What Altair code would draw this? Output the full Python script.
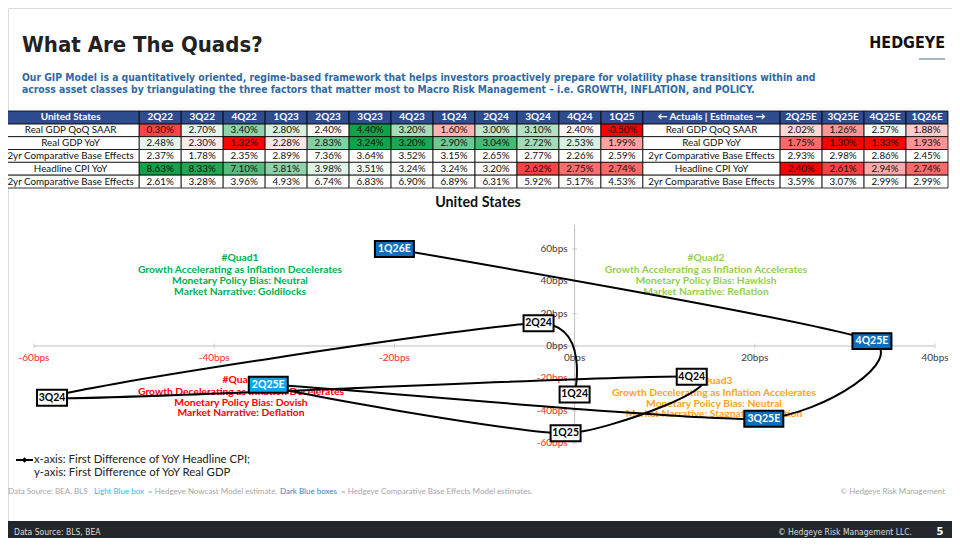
import altair as alt
import pandas as pd
import numpy as np

# ---------------- data ----------------
quarters = ["2Q22", "3Q22", "4Q22", "1Q23", "2Q23", "3Q23", "4Q23", "1Q24", "2Q24",
            "3Q24", "4Q24", "1Q25", "2Q25E", "3Q25E", "4Q25E", "1Q26E"]
gdp_qoq = [0.30, 2.70, 3.40, 2.80, 2.40, 4.40, 3.20, 1.60, 3.00, 3.10, 2.40, -0.50, 2.02, 1.26, 2.57, 1.88]
gdp_yoy = [2.48, 2.30, 1.32, 2.28, 2.83, 3.24, 3.20, 2.90, 3.04, 2.72, 2.53, 1.99, 1.75, 1.30, 1.33, 1.93]
gdp_base = [2.37, 1.78, 2.35, 2.89, 7.36, 3.64, 3.52, 3.15, 2.65, 2.77, 2.26, 2.59, 2.93, 2.98, 2.86, 2.45]
cpi_yoy = [8.63, 8.33, 7.10, 5.81, 3.98, 3.51, 3.24, 3.24, 3.20, 2.62, 2.75, 2.74, 2.40, 2.61, 2.94, 2.74]
cpi_base = [2.61, 3.28, 3.96, 4.93, 6.74, 6.83, 6.90, 6.89, 6.31, 5.92, 5.17, 4.53, 3.59, 3.07, 2.99, 2.99]
row_labels = ["Real GDP QoQ SAAR", "Real GDP YoY", "2yr Comparative Base Effects",
              "Headline CPI YoY", "2yr Comparative Base Effects"]
row_colored = [True, True, False, True, False]

path_labels = ["1Q24", "2Q24", "3Q24", "4Q24", "1Q25", "2Q25E", "3Q25E", "4Q25E", "1Q26E"]
cpi_diff_bps = [0, -4, -58, 13, -1, -34, 21, 33, -20]
gdp_diff_bps = [-30, 14, -32, -19, -54, -24, -45, 3, 60]
label_kind = ["actual", "actual", "actual", "actual", "actual", "nowcast", "estimate", "estimate", "estimate"]

x_ticks = [-60, -40, -20, 0, 20, 40]
y_ticks = [60, 40, 20, 0, -20, -40, -60]

quad_texts = {
    "q1": ["#Quad1", "Growth Accelerating as Inflation Decelerates", "Monetary Policy Bias: Neutral", "Market Narrative: Goldilocks"],
    "q2": ["#Quad2", "Growth Accelerating as Inflation Accelerates", "Monetary Policy Bias: Hawkish", "Market Narrative: Reflation"],
    "q3": ["#Quad3", "Growth Decelerating as Inflation Accelerates", "Monetary Policy Bias: Neutral", "Market Narrative: Stagnation/Inflation"],
    "q4": ["#Quad4", "Growth Decelerating as Inflation Decelerates", "Monetary Policy Bias: Dovish", "Market Narrative: Deflation"],
}

# ---------------- styles ----------------
FONT = "Lato"
COND = "DejaVu Sans Condensed"
RED = "#FA0000"
GREEN = "#12A24A"
NAVY = "#2E4C8E"
ONE = alt.Data(values=[{"a": 1}])


def txt(text, x, y, size=10, color="#000000", weight="normal", align="left", font=FONT, baseline="middle", **kw):
    return alt.Chart(ONE).mark_text(text=text, fontSize=size, color=color, fontWeight=weight, align=align,
                                    font=font, baseline=baseline, **kw).encode(x=alt.value(x), y=alt.value(y))


def rect(x, x2, y, y2, fill, **kw):
    return alt.Chart(ONE).mark_rect(fill=fill, **kw).encode(
        x=alt.value(x), x2=alt.value(x2), y=alt.value(y), y2=alt.value(y2))


layers = []

# ---------------- header ----------------
layers.append(txt("What Are The Quads?", 14, 37, size=22, color="#222222", weight="bold", font=COND))
layers.append(txt("HEDGEYE", 937, 35, size=16, color="#111111", weight="bold", font=COND, align="right"))
layers.append(alt.Chart(ONE).mark_rule(color="#A9B4BE", strokeWidth=2).encode(
    x=alt.value(911), x2=alt.value(937), y=alt.value(51)))
layers.append(txt("Our GIP Model is a quantitatively oriented, regime-based framework that helps investors proactively "
                  "prepare for volatility phase transitions within and", 14, 70, size=10.3, color="#2F6AA3",
                  font=COND, weight="bold"))
layers.append(txt("across asset classes by triangulating the three factors that matter most to Macro Risk Management "
                  "\u2013 i.e. GROWTH, INFLATION, and POLICY.", 14, 82, size=10.3, color="#2F6AA3",
                  font=COND, weight="bold"))

# ---------------- table ----------------
col_names = ["United States"] + quarters[:12] + ["\u2190  Actuals  |  Estimates  \u2192"] + quarters[12:]
col_units = [3.27] + [1] * 12 + [3.27] + [1] * 4
edges = np.concatenate([[0], np.cumsum(col_units)])
series_rows = [gdp_qoq, gdp_yoy, gdp_base, cpi_yoy, cpi_base]


def scores_for(vals):
    v = np.array(vals, dtype=float)
    m, lo, hi = np.median(v), v.min(), v.max()
    return [float((x - m) / (hi - m)) if x >= m else float((x - m) / (m - lo)) for x in v]


row_scores = [scores_for(s) if col else [0.0] * len(s) for s, col in zip(series_rows, row_colored)]

cells = []
for c, name in enumerate(col_names):
    x0, x1 = float(edges[c]), float(edges[c + 1])
    cells.append(dict(row="r0", x0=x0, x1=x1, xc=(x0 + x1) / 2, text=name, score=0.0, part="head"))
    for r in range(5):
        if c in (0, 13):
            text, score, part = row_labels[r], 0.0, "label"
        else:
            q = c - 1 if c < 13 else c - 2
            text, score, part = f"{series_rows[r][q]:.2f}%", row_scores[r][q], "value"
        cells.append(dict(row=f"r{r + 1}", x0=x0, x1=x1, xc=(x0 + x1) / 2, text=text, score=score, part=part))
cells = pd.DataFrame(cells)

tx_scale = alt.Scale(domain=[0, float(edges[-1])], range=[-6, 940])
ty_scale = alt.Scale(domain=["r0", "r1", "r2", "r3", "r4", "r5"], range=[103, 180], paddingInner=0, paddingOuter=0)
TX0 = alt.X("x0:Q", scale=tx_scale, axis=None)
TXC = alt.X("xc:Q", scale=tx_scale, axis=None)
TY = alt.Y("row:N", scale=ty_scale, axis=None)

body = alt.Chart(cells).transform_filter("datum.part != 'head'")
head = alt.Chart(cells).transform_filter("datum.part == 'head'")
layers.append(body.mark_rect(stroke="#000000", strokeWidth=0.8).encode(
    x=TX0, x2="x1:Q", y=TY,
    fill=alt.Fill("score:Q", scale=alt.Scale(domain=[-1, 0, 1], range=[RED, "#FFFFFF", GREEN], interpolate="rgb"),
                  legend=None)))
layers.append(head.mark_rect(fill=NAVY, stroke="#000000", strokeWidth=0.8).encode(x=TX0, x2="x1:Q", y=TY))
layers.append(body.mark_text(font=FONT, fontSize=9.8, color="#111111", baseline="middle").encode(
    x=TXC, y=TY, text="text:N"))
layers.append(head.mark_text(font=FONT, fontSize=10, fontWeight="bold", color="#FFFFFF", baseline="middle").encode(
    x=TXC, y=TY, text="text:N"))

# ---------------- quad chart ----------------
layers.append(txt("United States", 470, 195, size=14.3, weight="bold", color="#111111", align="center"))

sx = alt.Scale(domain=[-60, 40], range=[26, 927])
sy = alt.Scale(domain=[-60, 75], range=[435, 216.7])

axes_x = pd.DataFrame({"x0": [x_ticks[0]], "x1": [x_ticks[-1]], "y": [0]})
axes_y = pd.DataFrame({"x": [0], "y0": [y_ticks[-1]], "y1": [75]})
layers.append(alt.Chart(axes_x).mark_rule(color="#BFBFBF", strokeWidth=1).encode(
    x=alt.X("x0:Q", scale=sx, axis=None), x2="x1:Q", y=alt.Y("y:Q", scale=sy, axis=None)))
layers.append(alt.Chart(axes_y).mark_rule(color="#BFBFBF", strokeWidth=1).encode(
    x=alt.X("x:Q", scale=sx, axis=None), y=alt.Y("y0:Q", scale=sy, axis=None), y2="y1:Q"))

xt = pd.DataFrame({"v": x_ticks, "z": [0] * len(x_ticks), "lab": [f"{v}bps" for v in x_ticks]})
yt = pd.DataFrame({"v": y_ticks, "z": [0] * len(y_ticks), "lab": [f"{v}bps" for v in y_ticks]})
layers.append(alt.Chart(xt).mark_tick(orient="vertical", size=5, thickness=1, color="#BFBFBF").encode(
    x=alt.X("v:Q", scale=sx, axis=None), y=alt.Y("z:Q", scale=sy, axis=None)))
layers.append(alt.Chart(yt).mark_tick(orient="horizontal", size=5, thickness=1, color="#BFBFBF").encode(
    x=alt.X("z:Q", scale=sx, axis=None), y=alt.Y("v:Q", scale=sy, axis=None)))
layers.append(alt.Chart(xt).mark_text(font=FONT, fontSize=10, dy=12, baseline="middle").encode(
    x=alt.X("v:Q", scale=sx, axis=None), y=alt.Y("z:Q", scale=sy, axis=None), text="lab:N",
    fill=alt.condition("datum.v < 0", alt.value("#FF2A2A"), alt.value("#404040"))))
layers.append(alt.Chart(yt).mark_text(font=FONT, fontSize=10, dx=-7, align="right", baseline="middle").encode(
    x=alt.X("z:Q", scale=sx, axis=None), y=alt.Y("v:Q", scale=sy, axis=None), text="lab:N",
    fill=alt.condition("datum.v < 0", alt.value("#FF2A2A"), alt.value("#404040"))))

# quadrant annotations
quad_pos = {"q1": (232, [250, 261.5, 272.7, 283.7], "#00B050"),
            "q2": (698, [250, 261.5, 272.7, 283.7], "#92D050"),
            "q3": (706, [372.7, 384.7, 395.7, 406.3], "#FFA31A"),
            "q4": (233, [372, 384, 394.7, 405.3], "#FF0000")}
for k, lines in quad_texts.items():
    cx, ys, colr = quad_pos[k]
    for line, yy in zip(lines, ys):
        layers.append(txt(line, cx, yy, size=10.3, color=colr, weight="bold", align="center"))

pts = pd.DataFrame({"label": path_labels, "cpi": cpi_diff_bps, "gdp": gdp_diff_bps,
                    "kind": label_kind, "order": list(range(len(path_labels)))})
PX = alt.X("cpi:Q", scale=sx, axis=None)
PY = alt.Y("gdp:Q", scale=sy, axis=None)
layers.append(alt.Chart(pts).mark_line(interpolate="cardinal", tension=0.4, color="#000000", strokeWidth=2).encode(
    x=PX, y=PY, order="order:Q"))

kind_fill = alt.Scale(domain=["actual", "nowcast", "estimate"], range=["#FFFFFF", "#13A4E8", "#0A6FC0"])
kind_text = alt.Scale(domain=["actual", "nowcast", "estimate"], range=["#000000", "#FFFFFF", "#FFFFFF"])
PATH4 = "M-1,-0.533L1,-0.533L1,0.533L-1,0.533Z"
PATH5 = "M-1,-0.41L1,-0.41L1,0.41L-1,0.41Z"
for n, path, size in [(4, PATH4, 900), (5, PATH5, 1521)]:
    layers.append(alt.Chart(pts).transform_filter(f"length(datum.label) == {n}").mark_point(
        shape=path, size=size, filled=True, stroke="#000000", strokeWidth=2, opacity=1, fillOpacity=1).encode(
        x=PX, y=PY, fill=alt.Fill("kind:N", scale=kind_fill, legend=None)))
layers.append(alt.Chart(pts).mark_text(font=FONT, fontSize=10.5, fontWeight="bold", baseline="middle").encode(
    x=PX, y=PY, text="label:N", fill=alt.Fill("kind:N", scale=kind_text, legend=None)))

# legend
layers.append(alt.Chart(ONE).mark_rule(color="#000000", strokeWidth=2).encode(
    x=alt.value(8), x2=alt.value(25), y=alt.value(452)))
layers.append(alt.Chart(ONE).mark_point(shape="diamond", filled=True, color="#000000", size=30, opacity=1).encode(
    x=alt.value(16.5), y=alt.value(452)))
layers.append(txt("x-axis: First Difference of YoY Headline CPI;", 26, 452, size=11.4, color="#222222"))
layers.append(txt("y-axis: First Difference of YoY Real GDP", 26, 465, size=11.4, color="#222222"))

# footnote
GRAY = "#A6A6A6"
layers.append(txt("Data Source: BEA, BLS", 0, 484, size=8, color=GRAY))
layers.append(txt("Light Blue box", 86, 484, size=8, color="#35B5EA"))
layers.append(txt("= Hedgeye Nowcast Model estimate.", 140, 484, size=8, color=GRAY))
layers.append(txt("Dark Blue boxes", 272, 484, size=8, color="#3E7FC1"))
layers.append(txt("= Hedgeye Comparative Base Effects Model estimates.", 333, 484, size=8, color=GRAY))
layers.append(txt("\u00a9 Hedgeye Risk Management", 937, 484, size=8, color=GRAY, align="right"))

# bottom bar
layers.append(rect(0, 944, 513, 530, "#23272B"))
layers.append(txt("Data Source: BLS, BEA", 6, 524, size=8.5, color="#DDDDDD", font=COND))
layers.append(txt("\u00a9 Hedgeye Risk Management LLC.", 904, 524, size=8.5, color="#DDDDDD", font=COND, align="right"))
layers.append(txt("5", 932, 524, size=11, color="#FFFFFF", weight="bold", font=COND, align="center"))

chart = alt.layer(*layers).resolve_scale(x="independent", y="independent", fill="independent").properties(
    width=944, height=530, autosize=alt.AutoSizeParams(type="none"), padding=0
).configure_view(stroke=None).configure(background="#FFFFFF")

chart.save("out.html", embed_options={"renderer": "svg", "actions": False})
